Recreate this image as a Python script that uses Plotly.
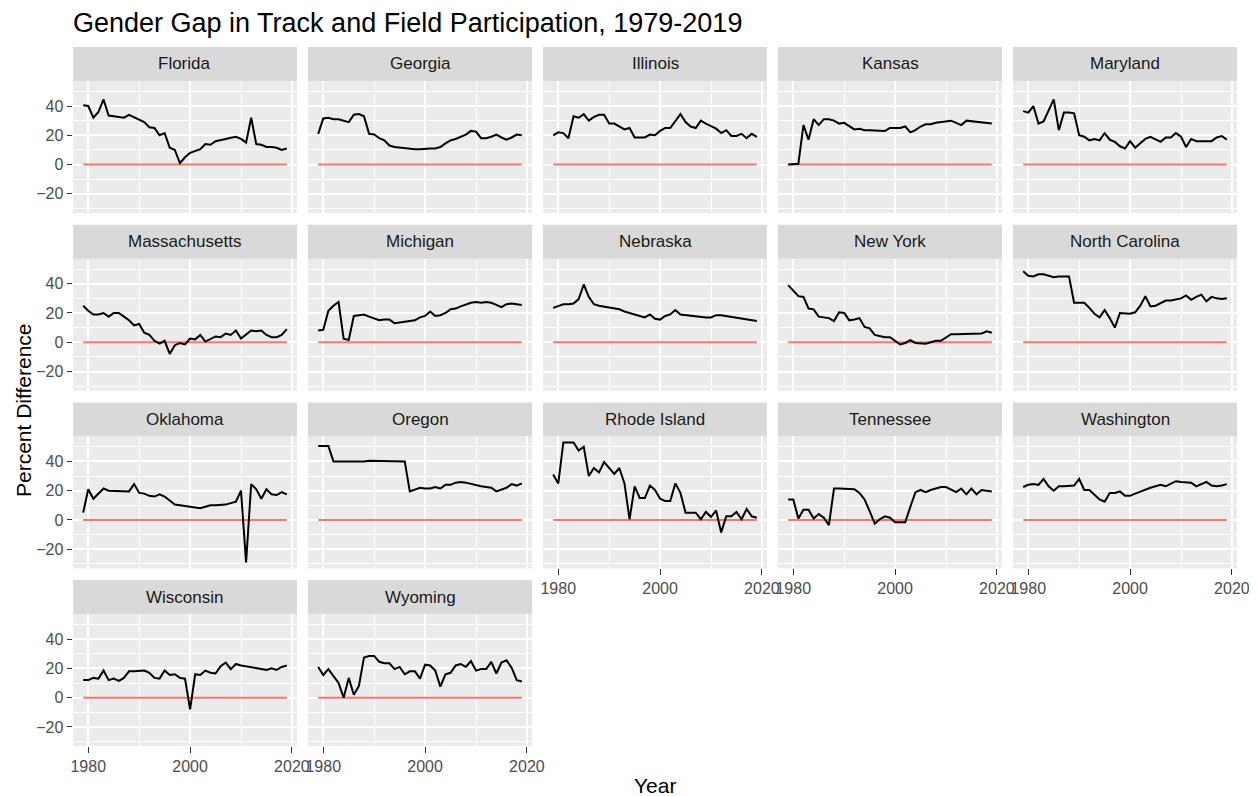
import plotly.graph_objects as go

# ---------------- data ----------------
years = list(range(1979, 2020))

states = ["Florida", "Georgia", "Illinois", "Kansas", "Maryland",
          "Massachusetts", "Michigan", "Nebraska", "New York", "North Carolina",
          "Oklahoma", "Oregon", "Rhode Island", "Tennessee", "Washington",
          "Wisconsin", "Wyoming"]

florida = [40.5, 40, 32, 36, 44.5, 33.5, 33, 32.5, 32, 34,
           32.5, 31, 29, 25.5, 25, 20, 21.5, 11.5, 10, 1,
           5, 8, 9.5, 10.5, 14, 13.5, 16, 16.5, 17.5, 18.3,
           19, 17.5, 15, 32, 14, 13.5, 12, 12, 11.5, 10,
           11]
georgia = [21, 31.5, 32, 31, 31, 30, 29, 34, 34.5, 33,
           21, 20.5, 18, 16.5, 13, 12, 11.5, 11, 10.5, 10.5,
           10.5, 11, 11, 11, 12, 14.5, 16.5, 17.5, 19, 20.5,
           23, 22.5, 18, 18, 19, 20.5, 18.5, 17, 18.5, 20.5,
           20]
illinois = [20, 22, 21.5, 18, 33, 32, 34.5, 30, 32.5, 34,
            34, 28, 28, 26, 24, 25, 18.5, 18.5, 18.5, 20.5,
            20, 23, 25, 25, 30, 34.5, 29, 26, 25, 30,
            28, 26, 24.5, 21.5, 23.5, 19.5, 19.5, 21, 18, 21,
            19]
kansas = [0, 0, 0.5, 27, 17, 31, 27, 31, 31, 30,
          28, 28.5, 26, 24, 24.5, 23.5, 23.5, 23.5, 23.5, 23,
          25, 25, 25, 26, 22, 23.5, 26, 27.5, 27.5, 28.5,
          29, 30, 30, 28.5, 27, 30, 29.5, 29.5, 28.5, 28,
          28]
maryland = [36.5, 35.5, 40, 28, 29.5, 37, 44.5, 23.5, 35.5, 35.5,
            35, 20, 19, 16.5, 17.5, 16.5, 21.5, 17, 15.5, 12.5,
            11, 16, 11.5, 14.5, 17.5, 19, 17, 15.5, 18.5, 18.5,
            21.5, 19, 12, 17.5, 16, 16, 16, 16, 18.5, 19.5,
            17]
massachusetts = [25, 21.5, 19, 19, 20, 17.5, 20, 20, 17.5, 15,
                 11.5, 12.5, 6.5, 5, 1, -1, 1, -8, -2, -0.5,
                 -1.5, 2.5, 2, 5, 0.5, 2.5, 4, 3.5, 6, 5,
                 8, 2.5, 5.5, 8, 7.5, 8, 5, 3.5, 3.5, 5,
                 9]
michigan = [8, 8.5, 21.5, 25, 27.5, 2.5, 1.5, 18, 18.5, 19,
            17.5, 16.5, 15, 15.5, 15.5, 13, 13.5, 14, 14, 15,
            17, 18, 21, 18, 18.5, 20, 22.5, 23, 24.5, 26,
            27, 27.5, 27, 27.5, 27, 25.5, 24, 26, 26.5, 26,
            25.5]
nebraska = [23.5, 24.5, 26, 26, 26.5, 29.5, 39.5, 31, 26, 25,
            24.5, 24, 23.5, 22.5, 21, 20, 19, 18.5, 17, 19,
            16, 15.5, 18, 19, 22, 19, 18.5, 18.5, 17.5, 17,
            17, 17, 18.5, 18.5, 18, 17.5, 16.5, 16, 15.5, 15,
            14.5]
new_york = [39, 35, 31.5, 31, 23, 22.5, 17.5, 17, 16.5, 14.5,
            20.5, 20, 15, 15.5, 16.5, 10.5, 9.5, 5, 4, 3.5,
            3.5, 1, -1.5, -0.5, 1.5, -0.5, -1, -1, 0, 1,
            1, 3.5, 5.5, 5.5, 5.5, 5.5, 5.5, 5.5, 6, 7.5,
            6.5]
north_carolina = [48.5, 45.5, 45, 46.5, 46.5, 45.5, 44.5, 45, 45, 45,
                  27, 27, 27, 23.5, 19.5, 17, 22, 16.5, 10, 20,
                  19.5, 19.5, 20.5, 25, 31.5, 24.5, 25, 27, 28.5, 28.5,
                  29, 30, 32, 29, 31, 32.5, 28, 31, 30, 29.5,
                  30]
oklahoma = [5, 21, 14.5, 18, 21.5, 20, 20, 20, 20, 19.5,
            24.5, 18.5, 18, 16.5, 16, 17.5, 16, 13, 10.5, 10,
            9.5, 9, 9, 8, 9, 10, 10, 10, 10.5, 11.5,
            12.5, 20, -29, 24.5, 21, 14.5, 21, 17.5, 17, 19,
            17.5]
oregon = [50.5, 50.5, 50.5, 40, 40, 40, 39.5, 40, 39.5, 40,
          40.5, 40.5, 40, 40, 40, 40, 40, 40, 19.5, 20.5,
          22, 21.5, 21.5, 22.5, 21.5, 24, 24, 25.5, 26, 25.5,
          24.5, 23.5, 23, 22.5, 22, 19.5, 21, 22, 24.5, 23.5,
          25]
rhode_island = [31, 25, 53, 53, 53, 47.5, 50, 30, 35.5, 32.5,
                39.5, 35.5, 31.5, 35.5, 25, 0.5, 23, 15, 15, 23.5,
                20.5, 14.5, 13, 13, 25, 18.5, 5, 5, 5, 0.5,
                5.5, 2, 6.5, -8.5, 2.5, 2.5, 5.5, 0.5, 7.5, 2.5,
                1.5]
tennessee = [14, 14, 1, 7, 7, 1, 4, 1.5, -3.5, 21.5,
             21.5, 21.5, 21.5, 21, 18.5, 14, 6, -2.5, 0.5, 2.5,
             1.5, -1.5, -1.5, -1.5, 9, 19, 20.5, 19, 20.5, 21.5,
             22.5, 22.5, 20.5, 19, 21.5, 17.5, 21.5, 17.5, 20.5, 20,
             19.5]
washington = [22.5, 24, 24.5, 24, 28, 23, 20, 23, 23, 23,
              23.5, 28, 20.5, 20.5, 17, 14, 12.5, 18.5, 18.5, 19.5,
              16.5, 16.5, 18, 19.5, 21, 22, 23, 24, 23, 24.5,
              26.5, 26, 25.5, 25.5, 23, 24.5, 26, 23.5, 23, 23.5,
              24.5]
wisconsin = [12, 12, 13.5, 13, 18.5, 12, 13, 11.5, 13.5, 18,
             18, 18, 18.5, 17, 13.5, 13, 18.5, 15.5, 16, 13.5,
             13, -8, 16, 15.5, 18.5, 17, 16.5, 21.5, 24, 19.5,
             23, 22, 21.5, 21, 20, 19.5, 19, 20, 19, 21,
             22]
wyoming = [21, 15.5, 19.5, 15, 10, 0, 13.5, 2, 8, 27.5,
           28.5, 28.5, 24.5, 23.5, 23.5, 19.5, 21, 16, 18, 18,
           13, 22.5, 22, 18.5, 7.5, 16, 17, 22, 23, 21,
           25, 18.5, 19.5, 19.5, 24.5, 16.5, 24, 25.5, 20.5, 12,
           11]

baseline = [0] * len(years)

x_tick_vals = [1980, 2000, 2020]
x_minor_vals = [1990, 2010]
y_tick_vals = [-20, 0, 20, 40]
y_minor_vals = [-30, -10, 10, 30, 50]

series = {
    "Florida": florida, "Georgia": georgia, "Illinois": illinois,
    "Kansas": kansas, "Maryland": maryland, "Massachusetts": massachusetts,
    "Michigan": michigan, "Nebraska": nebraska, "New York": new_york,
    "North Carolina": north_carolina, "Oklahoma": oklahoma, "Oregon": oregon,
    "Rhode Island": rhode_island, "Tennessee": tennessee,
    "Washington": washington, "Wisconsin": wisconsin, "Wyoming": wyoming,
}

title_text = "Gender Gap in Track and Field Participation, 1979-2019"
x_title = "Year"
y_title = "Percent Difference"

# ---------------- layout geometry (page pixels) ----------------
# The page body has an 8px default margin, so the figure starts at (8, 8).
OFF = 8
W, H = 1257 - OFF, 796 - OFF
COL_LEFT, COL_STEP, PANEL_W = 73, 235, 224
ROW_TOP, ROW_STEP, STRIP_H, PANEL_H = 47, 177.7, 34, 132
FONT = "Liberation Sans, Arial, sans-serif"


def px(xp):
    return (xp - OFF) / W


def py(yp):
    return 1 - (yp - OFF) / H


all_vals = [v for s in series.values() for v in s]
ymin, ymax = min(all_vals), max(all_vals)
ypad = 0.05 * (ymax - ymin)
yrange = [ymin - ypad, ymax + ypad]
xpad = 0.05 * (years[-1] - years[0])
xrange = [years[0] - xpad, years[-1] + xpad]

fig = go.Figure()
layout = {}
shapes = []
annotations = []
n = len(states)
ncol = 5

tickfont = dict(family=FONT, size=16, color="#4D4D4D")

for i, st in enumerate(states):
    r, c = divmod(i, ncol)
    k = "" if i == 0 else str(i + 1)
    x0 = COL_LEFT + c * COL_STEP
    x1 = x0 + PANEL_W
    s_top = ROW_TOP + r * ROW_STEP
    p_top = s_top + STRIP_H
    p_bot = p_top + PANEL_H
    show_x = (i + ncol >= n)
    show_y = (c == 0)

    layout["xaxis" + k] = dict(
        domain=[px(x0), px(x1)], range=xrange, anchor="y" + k,
        tickmode="array", tickvals=x_tick_vals, showticklabels=show_x,
        ticks="outside" if show_x else "", ticklen=5.5, tickwidth=1.3,
        tickcolor="#333333", tickfont=tickfont,
        showgrid=True, gridcolor="white", gridwidth=2,
        minor=dict(tickvals=x_minor_vals, showgrid=True, gridcolor="white",
                   gridwidth=1, ticks=""),
        zeroline=False, showline=False, fixedrange=True, automargin=False,
    )
    layout["yaxis" + k] = dict(
        domain=[py(p_bot), py(p_top)], range=yrange, anchor="x" + k,
        tickmode="array", tickvals=y_tick_vals, showticklabels=show_y,
        ticks="outside" if show_y else "", ticklen=5.5, tickwidth=1.3,
        tickcolor="#333333", tickfont=tickfont,
        showgrid=True, gridcolor="white", gridwidth=2,
        minor=dict(tickvals=y_minor_vals, showgrid=True, gridcolor="white",
                   gridwidth=1, ticks=""),
        zeroline=False, showline=False, fixedrange=True, automargin=False,
    )

    fig.add_trace(go.Scatter(
        x=years, y=baseline, xaxis="x" + k, yaxis="y" + k, mode="lines",
        line=dict(color="#F8766D", width=2), showlegend=False, hoverinfo="skip"))
    fig.add_trace(go.Scatter(
        x=years, y=series[st], xaxis="x" + k, yaxis="y" + k, mode="lines",
        line=dict(color="black", width=2), showlegend=False, name=st))

    shapes.append(dict(
        type="rect", xref="paper", yref="paper",
        x0=px(x0), x1=px(x1), y0=py(p_top), y1=py(s_top),
        fillcolor="#D9D9D9", line=dict(width=0), layer="below"))
    annotations.append(dict(
        text=st, xref="paper", yref="paper",
        x=px((x0 + x1) / 2), y=py(s_top + STRIP_H / 2),
        xanchor="center", yanchor="middle", showarrow=False,
        font=dict(family=FONT, size=17, color="#1A1A1A")))

annotations.append(dict(
    text=x_title, xref="paper", yref="paper",
    x=px((COL_LEFT + (COL_LEFT + 4 * COL_STEP + PANEL_W)) / 2), y=py(785),
    xanchor="center", yanchor="middle", showarrow=False,
    font=dict(family=FONT, size=21, color="black")))
annotations.append(dict(
    text=y_title, xref="paper", yref="paper",
    x=px(23), y=py(410), textangle=-90,
    xanchor="center", yanchor="middle", showarrow=False,
    font=dict(family=FONT, size=21, color="black")))

fig.update_layout(
    template="none",
    width=W, height=H,
    margin=dict(l=0, r=0, t=0, b=0, pad=0),
    paper_bgcolor="white", plot_bgcolor="#EBEBEB",
    font=dict(family=FONT, color="black"),
    title=dict(text=title_text, x=px(COL_LEFT), xanchor="left",
               y=py(23), yanchor="middle",
               font=dict(family=FONT, size=27, color="black")),
    shapes=shapes, annotations=annotations,
    showlegend=False, hovermode="closest",
    **layout,
)

fig.write_html("out.html")
